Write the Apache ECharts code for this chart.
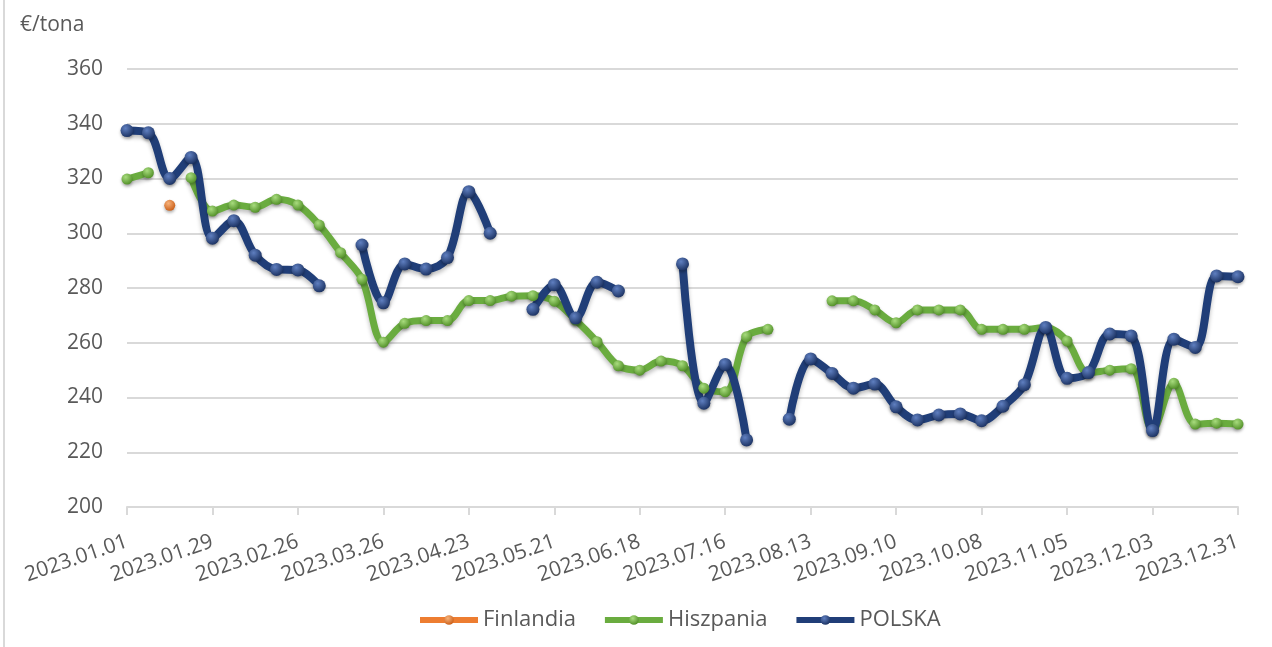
<!DOCTYPE html>
<html>
<head>
<meta charset="utf-8">
<title>Ceny</title>
<script src="https://cdn.jsdelivr.net/npm/echarts@6/dist/echarts.min.js"></script>
<style>
  html, body { margin: 0; padding: 0; background: #fff; }
  #myChart { width: 1272px; height: 647px; }
</style>
</head>
<body>
<div id="myChart"></div>
<script>
/*eslint-disable*/
// tygodnie 2023
const weeks = [
  '2023.01.01', '2023.01.08', '2023.01.15', '2023.01.22', '2023.01.29',
  '2023.02.05', '2023.02.12', '2023.02.19', '2023.02.26',
  '2023.03.05', '2023.03.12', '2023.03.19', '2023.03.26',
  '2023.04.02', '2023.04.09', '2023.04.16', '2023.04.23', '2023.04.30',
  '2023.05.07', '2023.05.14', '2023.05.21', '2023.05.28',
  '2023.06.04', '2023.06.11', '2023.06.18', '2023.06.25',
  '2023.07.02', '2023.07.09', '2023.07.16', '2023.07.23', '2023.07.30',
  '2023.08.06', '2023.08.13', '2023.08.20', '2023.08.27',
  '2023.09.03', '2023.09.10', '2023.09.17', '2023.09.24',
  '2023.10.01', '2023.10.08', '2023.10.15', '2023.10.22', '2023.10.29',
  '2023.11.05', '2023.11.12', '2023.11.19', '2023.11.26',
  '2023.12.03', '2023.12.10', '2023.12.17', '2023.12.24', '2023.12.31'
]

const finlandia = [
  null, null, 310.2, null, null, null, null, null, null, null,
  null, null, null, null, null, null, null, null, null, null,
  null, null, null, null, null, null, null, null, null, null,
  null, null, null, null, null, null, null, null, null, null,
  null, null, null, null, null, null, null, null, null, null,
  null, null, null
]

const hiszpania = [
  319.8, 322.1, null, 320.3, 308.1, 310.3, 309.5, 312.4, 310.3, 303,
  292.9, 283.2, 260.2, 267.1, 268.1, 268.1, 275.4, 275.4, 277, 277.2,
  275.2, 268.3, 260.4, 251.6, 250, 253.3, 251.6, 243.4, 242.1, 262.2,
  264.9, null, null, 275.3, 275.3, 272, 267.3, 272, 272, 272,
  264.9, 264.9, 264.9, 265.6, 260.6, 249, 250, 250.5, 228.1, 245.2,
  230.3, 230.6, 230.3
]

const polska = [
  337.5, 336.7, 320, 327.7, 298.2, 304.6, 292, 286.8, 286.6, 280.8,
  null, 295.7, 274.6, 288.8, 286.9, 291.1, 315.2, 300, null, 272.2,
  281.2, 269, 282.1, 278.9, null, null, 288.8, 237.9, 252.1, 224.5,
  null, 232.1, 254.1, 248.8, 243.4, 244.9, 236.6, 231.8, 233.6, 234,
  231.5, 236.8, 244.7, 265.6, 247, 249.1, 263.2, 262.5, 227.9, 261.3,
  258.3, 284.4, 284.1
]

const yTicks = { min: 200, max: 360, step: 20 }

const font = '"Open Sans", "Noto Sans", sans-serif'
const textColor = '#595959'
const gridColor = '#d9d9d9'

// kulka z cieniowaniem jak w Excelu
function ball(light, dark) {
  return {
    type: 'radial', x: 0.38, y: 0.32, r: 0.75,
    colorStops: [
      { offset: 0, color: light },
      { offset: 1, color: dark }
    ]
  }
}

function makeSeries(name, data, lineColor, light, dark, width, size) {
  return {
    name: name,
    type: 'line',
    data: data,
    smooth: 0.35,
    symbol: 'circle',
    symbolSize: size,
    showSymbol: true,
    connectNulls: false,
    lineStyle: {
      color: lineColor,
      width: width,
      shadowColor: 'rgba(0, 0, 0, 0.25)',
      shadowBlur: 4,
      shadowOffsetY: 3
    },
    itemStyle: {
      color: ball(light, dark),
      borderWidth: 0,
      shadowColor: 'rgba(0, 0, 0, 0.3)',
      shadowBlur: 3,
      shadowOffsetY: 2
    },
    emphasis: { disabled: true }
  }
}

const myChart = echarts.init(document.getElementById('myChart'))
myChart.setOption({
  animation: false,
  textStyle: { fontFamily: font },
  grid: {
    left: 127,
    right: 34,
    top: 69,
    bottom: 140
  },
  graphic: [
    {
      type: 'rect',
      shape: { x: 3, y: 0, width: 2, height: 647 },
      style: { fill: '#d9d9d9' },
      silent: true
    },
    {
      type: 'text',
      left: 20,
      top: 15,
      style: {
        text: '€/tona',
        fill: textColor,
        font: '21px ' + font
      }
    }
  ],
  legend: {
    top: 604,
    left: 412,
    itemWidth: 58,
    itemHeight: 12,
    itemGap: 26,
    lineStyle: { width: 6 },
    textStyle: {
      color: textColor,
      fontSize: 22,
      fontFamily: font
    },
    data: ['Finlandia', 'Hiszpania', 'POLSKA']
  },
  xAxis: {
    type: 'category',
    data: weeks,
    boundaryGap: false,
    axisLine: {
      lineStyle: { color: gridColor, width: 2 }
    },
    axisTick: {
      show: true,
      interval: 3,
      length: 8,
      lineStyle: { color: gridColor, width: 2 }
    },
    axisLabel: {
      interval: 3,
      rotate: 19,
      margin: 34,
      color: textColor,
      fontSize: 21,
      fontFamily: font
    },
    splitLine: { show: false }
  },
  yAxis: {
    type: 'value',
    min: yTicks.min,
    max: yTicks.max,
    interval: yTicks.step,
    axisLine: { show: false },
    axisTick: { show: false },
    axisLabel: {
      margin: 24,
      color: textColor,
      fontSize: 21,
      fontFamily: font
    },
    splitLine: {
      lineStyle: { color: gridColor, width: 2 }
    }
  },
  series: [
    makeSeries('Finlandia', finlandia, '#ED7D31', '#F7B27A', '#C85A12', 7, 11),
    makeSeries('Hiszpania', hiszpania, '#6AAC3F', '#A8DC7E', '#4C8B22', 7, 11),
    makeSeries('POLSKA', polska, '#203E78', '#5F7FC0', '#172D5C', 8, 13)
  ]
})

window.addEventListener('resize', () => myChart.resize())
</script>
</body>
</html>
